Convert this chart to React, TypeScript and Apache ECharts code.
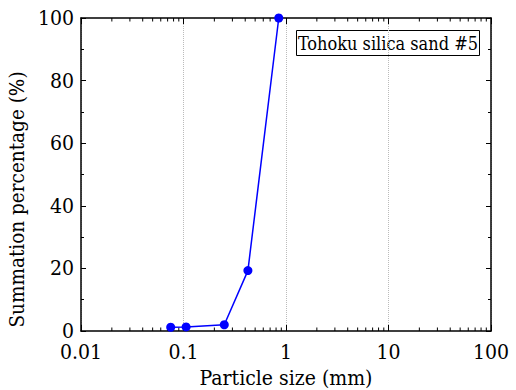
import React, { useEffect, useRef } from "react";
import * as echarts from "echarts";

const sizes = [0.075, 0.106, 0.25, 0.425, 0.85];
const percents = [1.2, 1.3, 2.0, 19.3, 100];
const seriesName = "Tohoku silica sand #5";
const xTickLabels = ["0.01", "0.1", "1", "10", "100"];
const minorXTicks: number[] = [];
[0.01, 0.1, 1, 10].forEach((d) => {
  for (let k = 2; k <= 9; k++) minorXTicks.push(parseFloat((d * k).toPrecision(6)));
});

const FONT = "DejaVu Serif Condensed";

export default function App() {
  const ref = useRef<HTMLDivElement>(null);
  useEffect(() => {
    document.body.style.margin = "0";
    const chart = echarts.init(ref.current!, null, { renderer: "svg" });
    const axisLine = { show: true, onZero: false, lineStyle: { color: "#000", width: 1.5 } };
    const fmt = (v: number) => {
      const s = parseFloat(v.toPrecision(6)).toString();
      return xTickLabels.includes(s) ? s : "";
    };
    chart.setOption({
      animation: false,
      backgroundColor: "#fff",
      textStyle: { fontFamily: FONT },
      grid: { left: 81, right: 25, top: 18, bottom: 59, outerBoundsMode: "none" },
      xAxis: [
        {
          type: "log",
          logBase: 10,
          min: 0.01,
          max: 100,
          name: "Particle size (mm)",
          nameLocation: "middle",
          nameGap: 27,
          nameTextStyle: { fontFamily: FONT, fontSize: 21, color: "#000" },
          axisLine,
          axisTick: { show: true, inside: true, length: 6, lineStyle: { color: "#000", width: 1 } },
          axisLabel: { fontFamily: FONT, fontSize: 21, lineHeight: 16, color: "#000", margin: 13, formatter: fmt },
          splitLine: { show: true, lineStyle: { type: "dotted", color: "#bbb", width: 1 } },
        },
        {
          type: "log",
          logBase: 10,
          min: 0.01,
          max: 100,
          position: "top",
          axisLine,
          axisTick: { show: true, inside: true, length: 6, lineStyle: { color: "#000", width: 1 } },
          axisLabel: { show: false },
          splitLine: { show: false },
        },
      ],
      yAxis: [
        {
          type: "value",
          min: 0,
          max: 100,
          interval: 20,
          name: "Summation percentage (%)",
          nameLocation: "middle",
          nameGap: 45,
          nameTextStyle: { fontFamily: FONT, fontSize: 20.5, color: "#000", padding: [0, 50, 0, 0] },
          axisLine,
          axisTick: { show: true, inside: true, length: 5, lineStyle: { color: "#000", width: 1 } },
          minorTick: { show: true, splitNumber: 2, length: 3, lineStyle: { color: "#000", width: 1 } },
          axisLabel: { fontFamily: FONT, fontSize: 21, lineHeight: 16, color: "#000", margin: 7 },
          splitLine: { show: false },
        },
        {
          type: "value",
          min: 0,
          max: 100,
          interval: 20,
          position: "right",
          axisLine,
          axisTick: { show: true, inside: true, length: 5, lineStyle: { color: "#000", width: 1 } },
          minorTick: { show: true, splitNumber: 2, length: 3, lineStyle: { color: "#000", width: 1 } },
          axisLabel: { show: false },
          splitLine: { show: false },
        },
      ],
      graphic: [
        {
          type: "group",
          right: 36,
          top: 30,
          children: [
            {
              type: "rect",
              shape: { x: 0, y: 0, width: 183, height: 25 },
              style: { fill: "#fff", stroke: "#000", lineWidth: 1 },
            },
            {
              type: "text",
              x: 91.5,
              y: 13,
              style: {
                text: seriesName,
                fontFamily: FONT,
                fontSize: 18,
                fill: "#000",
                align: "center",
                verticalAlign: "middle",
              },
            },
          ],
        },
      ],
      series: [
        {
          type: "custom",
          silent: true,
          clip: false,
          xAxisIndex: 0,
          yAxisIndex: 0,
          data: minorXTicks.map((v) => [v, 50]),
          renderItem: (params: any, api: any) => {
            const v = api.value(0);
            const b = api.coord([v, 0]);
            const t = api.coord([v, 100]);
            return {
              type: "group",
              children: [
                { type: "line", shape: { x1: b[0], y1: b[1], x2: b[0], y2: b[1] - 3.5 }, style: { stroke: "#000", lineWidth: 1 } },
                { type: "line", shape: { x1: t[0], y1: t[1], x2: t[0], y2: t[1] + 3.5 }, style: { stroke: "#000", lineWidth: 1 } },
              ],
            };
          },
        },
        {
          name: seriesName,
          type: "line",
          xAxisIndex: 0,
          yAxisIndex: 0,
          data: sizes.map((s, i) => [s, percents[i]]),
          symbol: "circle",
          symbolSize: 9,
          clip: false,
          itemStyle: { color: "#0000ff" },
          lineStyle: { color: "#0000ff", width: 1.5 },
        },
      ],
    });
    return () => chart.dispose();
  }, []);
  return <div ref={ref} style={{ width: 516, height: 390 }} />;
}
